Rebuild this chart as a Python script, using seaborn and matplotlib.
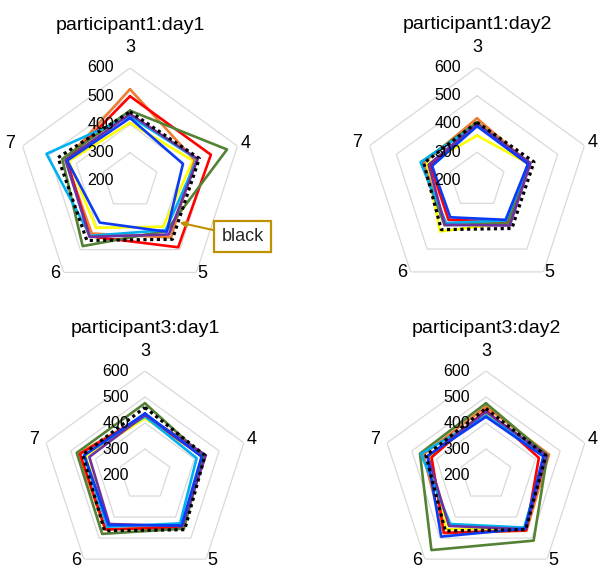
import numpy as np
import matplotlib
matplotlib.use("Agg")
import matplotlib.pyplot as plt
import seaborn as sns

# Radar axes (clockwise from the top) and radial scale
categories = ["3", "4", "5", "6", "7"]
radial_ticks = [200, 300, 400, 500, 600]
grid_levels = [300, 400, 500, 600]

series_names = ["yellow", "orange", "red", "green", "lightblue", "black", "purple", "blue"]
series_colors = {
    "orange": "#ED7D31",
    "red": "#FF0000",
    "green": "#548235",
    "lightblue": "#00B0F0",
    "yellow": "#FFFF00",
    "blue": "#0B3BF5",
    "purple": "#7030A0",
    "black": "#000000",
}

# Values per panel, one list per series (order of categories: 3, 4, 5, 6, 7)
p1_day1 = {
    "orange":    [525, 440, 447, 430, 440],
    "red":       [500, 501, 490, 442, 435],
    "green":     [449, 561, 418, 485, 452],
    "lightblue": [429, 450, 415, 440, 511],
    "yellow":    [406, 434, 400, 405, 428],
    "blue":      [423, 397, 422, 382, 434],
    "purple":    [437, 452, 434, 444, 440],
    "black":     [445, 458, 455, 460, 468],
}
p1_day2 = {
    "orange":    [420, 393, 385, 390, 400],
    "red":       [395, 390, 380, 372, 373],
    "green":     [405, 392, 388, 395, 408],
    "lightblue": [398, 392, 375, 386, 410],
    "yellow":    [359, 392, 385, 423, 386],
    "blue":      [392, 390, 372, 361, 367],
    "purple":    [400, 399, 397, 394, 380],
    "black":     [406, 412, 410, 415, 398],
}
p3_day1 = {
    "orange":    [429, 432, 447, 460, 469],
    "red":       [428, 432, 450, 458, 463],
    "green":     [476, 435, 455, 480, 476],
    "lightblue": [425, 409, 430, 446, 448],
    "yellow":    [418, 436, 440, 440, 440],
    "blue":      [437, 429, 440, 438, 445],
    "purple":    [431, 446, 443, 433, 425],
    "black":     [460, 443, 460, 465, 452],
}
p3_day2 = {
    "orange":    [463, 455, 465, 477, 454],
    "red":       [450, 414, 463, 475, 420],
    "green":     [476, 448, 512, 557, 467],
    "lightblue": [428, 440, 450, 433, 463],
    "yellow":    [437, 440, 455, 458, 429],
    "blue":      [424, 432, 455, 493, 437],
    "purple":    [443, 445, 458, 442, 435],
    "black":     [456, 442, 460, 466, 443],
}

panels = [
    ("participant1:day1", p1_day1, [0.0284, 0.4833, 0.3773, 0.3972]),
    ("participant1:day2", p1_day2, [0.6077, 0.4842, 0.3773, 0.3972]),
    ("participant3:day1", p3_day1, [0.0684, -0.0176, 0.3472, 0.3656]),
    ("participant3:day2", p3_day2, [0.6377, -0.0176, 0.3472, 0.3656]),
]

sns.set_theme(style="white")
plt.rcParams["font.family"] = ["Liberation Sans", "DejaVu Sans"]

fig = plt.figure(figsize=(5.99, 5.69), dpi=100)

n = len(categories)
theta = np.arange(n) * 2 * np.pi / n
theta_closed = np.append(theta, 2 * np.pi)
label_offsets = [(0, 20), (8, 3), (6, -1), (-8, -1), (-12, 3)]

axes = []
for title, data, rect in panels:
    ax = fig.add_axes(rect, projection="polar")
    ax.set_theta_offset(np.pi / 2)
    ax.set_theta_direction(-1)
    ax.set_facecolor("none")
    ax.grid(False)
    ax.spines["polar"].set_visible(False)
    ax.set_xticks([])
    ax.set_yticks([])

    # pentagon gridlines
    for lvl in grid_levels:
        ax.plot(theta_closed, [lvl] * (n + 1), color="#D9D9D9", lw=0.9, zorder=0)

    for name in series_names:
        vals = data[name]
        vals_closed = vals + vals[:1]
        if name == "black":
            sns.lineplot(x=theta_closed, y=vals_closed, ax=ax, sort=False,
                         color=series_colors[name], lw=2.3,
                         linestyle=(0, (1, 1.1)), zorder=3)
        else:
            sns.lineplot(x=theta_closed, y=vals_closed, ax=ax, sort=False,
                         color=series_colors[name], lw=1.9, zorder=2)

    ax.set_ylim(radial_ticks[0], radial_ticks[-1])
    ax.set_xlabel("")
    ax.set_ylabel("")

    # radial value labels along the top spoke
    for rv in radial_ticks:
        ax.annotate(str(rv), xy=(0, rv), xytext=(-16, 0), textcoords="offset pixels",
                    ha="right", va="center", fontsize=11.5, color="#000000",
                    annotation_clip=False, zorder=5)

    # category labels just outside the outer pentagon
    for t, lab, off in zip(theta, categories, label_offsets):
        ax.annotate(lab, xy=(t, radial_ticks[-1]), xytext=off,
                    textcoords="offset pixels", ha="center", va="center",
                    fontsize=13, color="#000000", annotation_clip=False)

    ax.annotate(title, xy=(0.5, 1.0), xycoords="axes fraction", xytext=(0, 38),
                textcoords="offset pixels", ha="center", va="baseline",
                fontsize=14, color="#000000", annotation_clip=False)
    axes.append(ax)

# callout pointing at the dotted series on the first panel
ax0 = axes[0]
blk = p1_day1["black"]
def _cart(t, r):
    return (r - radial_ticks[0]) * np.cos(t), (r - radial_ticks[0]) * np.sin(t)
x4, y4 = _cart(theta[1], blk[1])
x5, y5 = _cart(theta[2], blk[2])
frac = 0.78
xt, yt = x4 + frac * (x5 - x4), y4 + frac * (y5 - y4)
tip_theta = np.arctan2(yt, xt)
tip_r = np.hypot(xt, yt) + radial_ticks[0] + 6
ax0.annotate("black", xy=(tip_theta, tip_r), xytext=(63, -14),
             textcoords="offset pixels", ha="center", va="center", fontsize=13,
             bbox=dict(boxstyle="square,pad=0.4", fc="white", ec="#BF9000", lw=1.6),
             arrowprops=dict(arrowstyle="-|>", color="#BF9000", lw=1.5,
                             mutation_scale=9, shrinkA=0, shrinkB=0),
             annotation_clip=False, zorder=10)

fig.savefig("out.png", dpi=100)
